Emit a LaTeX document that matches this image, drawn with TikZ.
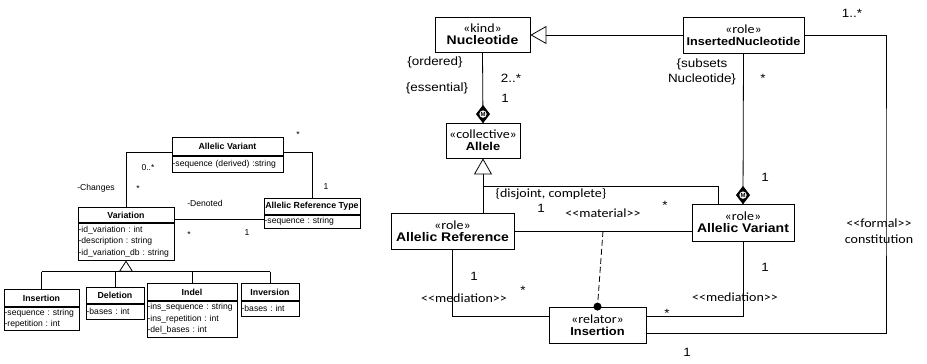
\documentclass[tikz,border=0pt]{standalone}
\usepackage{fontspec}
\setmainfont{Liberation Sans}
\newfontfamily\ontoSans[FakeStretch=1.12]{Liberation Sans}
\newfontfamily\ontoCal[FakeStretch=1.12]{Carlito}
\frenchspacing
\usetikzlibrary{positioning,arrows.meta}
\tikzstyle{diagram} = [x=1pt, y=-1pt, line width=0.8pt]
\tikzstyle{classTitle} = [draw, fill=white, inner sep=0pt, font=\fontsize{8.8}{10}\selectfont\bfseries]
\tikzstyle{classAttrs} = [draw, fill=white, inner xsep=0.6pt, inner ysep=0pt, align=left, font=\fontsize{8.6}{11.5}\selectfont]
\tikzstyle{roleLabel} = [inner sep=0pt, font=\fontsize{8.6}{10}\selectfont]
\tikzstyle{ontoClass} = [draw, fill=white, align=center, inner sep=0pt]
\tikzstyle{multLabel} = [inner sep=0pt, align=center, font=\ontoSans\fontsize{12}{15}\selectfont]
\tikzstyle{calLabel} = [inner sep=0pt, align=center, font=\ontoCal\fontsize{12.5}{16}\selectfont]
\tikzstyle{genSmall} = [-{Triangle[open, length=11pt, width=14pt]}]
\tikzstyle{genLarge} = [-{Triangle[open, length=16pt, width=18pt]}]
\tikzstyle{memberMark} = [circle, fill=white, inner sep=0.3pt, font=\fontsize{6}{6}\selectfont\bfseries]
\newcommand{\umlClass}[8]{
  \pgfmathsetmacro{\attrWidth}{#4 - 1.2}
  \node [classTitle, minimum width=#4, minimum height=#5, anchor=north] (#1) at (#2,#3) {#7};
  \node [classAttrs, text width=\attrWidth pt, minimum height=#6, anchor=north] (#1Attr) at (#1.south) {#8};
}
\newcommand{\stereo}[3]{{\ontoCal\fontsize{12.5}{15}\selectfont«#1»}\\{\ontoSans\fontsize{#2}{15}\selectfont\bfseries #3}}
\newcommand{\memberDiamond}[2]{
  \filldraw [black] (#2) -- ++(-6.5,-8.5) -- ++(6.5,-8.5) -- ++(6.5,8.5) -- cycle;
  \node [memberMark] (#1) at ([yshift=8.5pt]#2) {M};
}

\begin{document}
\begin{tikzpicture}[diagram]
  \useasboundingbox (0,0) rectangle (927,364);

  % variation model
  \umlClass{allelicVariantCls}{227.5}{137}{111}{18}{16}{Allelic Variant}{-sequence (derived) :string}
  \umlClass{allelicRefType}{312}{198}{96}{16}{13}{Allelic Reference Type}{-sequence : string}
  \umlClass{variation}{126}{207}{96}{15}{37}{Variation}{-id\_variation : int\\-description : string\\-id\_variation\_db : string}
  \umlClass{insertionCls}{41.5}{289}{75}{17}{23}{Insertion}{-sequence : string\\-repetition : int}
  \umlClass{deletion}{115}{287}{58}{16}{15}{Deletion}{-bases : int}
  \umlClass{indel}{192}{283}{90}{17}{36}{Indel}{-ins\_sequence : string\\-ins\_repetition : int\\-del\_bases : int}
  \umlClass{inversion}{270}{283}{58}{17}{15}{Inversion}{-bases : int}

  \draw (variation.north) |- ([yshift=3pt]allelicVariantCls.south west);
  \draw ([yshift=3pt]allelicVariantCls.south east) -| (allelicRefType.north);
  \draw ([yshift=3pt]variation.south east) -- ([yshift=3pt]variation.south east -| allelicRefTypeAttr.west);

  \coordinate (variationGen) at (126,271.5);
  \draw [genSmall] (variationGen) -- (variationAttr.south);
  \draw (insertionCls.north |- variationGen) -- (inversion.north |- variationGen);
  \foreach \sub in {insertionCls, deletion, indel, inversion}
    \draw (\sub.north |- variationGen) -- (\sub.north);

  \node [roleLabel] (avTypeMult) at (298,135) {*};
  \node [roleLabel] (typeAvMult) at (326,187) {1};
  \node [roleLabel] (avVarMult) at (148,168) {0..*};
  \node [roleLabel] (varAvMult) at (138,189) {*};
  \node [roleLabel] (changesRole) at (96,188) {-Changes};
  \node [roleLabel] (denotedRole) at (205,203) {-Denoted};
  \node [roleLabel] (varTypeMult) at (189,235) {*};
  \node [roleLabel] (typeVarMult) at (247,233) {1};

  % ontological model
  \node [ontoClass, minimum width=95, minimum height=35] (nucleotide) at (482.5,34.5) {\stereo{kind}{12.5}{Nucleotide}};
  \node [ontoClass, minimum width=121, minimum height=36] (insertedNuc) at (743.5,35) {\stereo{role}{11.3}{InsertedNucleotide}};
  \node [ontoClass, minimum width=74, minimum height=35] (allele) at (483,140.5) {\stereo{collective}{11.5}{Allele}};
  \node [ontoClass, minimum width=123, minimum height=36] (allelicRef) at (452.5,231) {\stereo{role}{12.5}{Allelic Reference}};
  \node [ontoClass, minimum width=102, minimum height=37] (allelicVar) at (743,222.5) {\stereo{role}{12.5}{Allelic Variant}};
  \node [ontoClass, minimum width=97, minimum height=36] (relator) at (597.5,325) {\stereo{relator}{11.5}{Insertion}};

  \draw [genLarge] (insertedNuc.west) -- (insertedNuc.west -| nucleotide.east);
  \draw (nucleotide.south) -- (allele.north);
  \memberDiamond{nucleotideMember}{allele.north}
  \draw (insertedNuc.south) -- (allelicVar.north);
  \memberDiamond{insertedMember}{allelicVar.north}

  \coordinate (alleleGen) at (483,186);
  \draw [genLarge] (alleleGen) -- (allele.south);
  \draw (alleleGen) -- (alleleGen |- allelicRef.north);
  \draw (alleleGen) -| ([xshift=-25pt]allelicVar.north);

  \draw (allelicRef.east) -- (allelicRef.east -| allelicVar.west);
  \coordinate (materialPt) at (603,231);
  \draw [dash pattern=on 6pt off 3pt] (materialPt) -- (relator.north);
  \fill (relator.north) circle (4);

  \draw (allelicRef.south) |- ([yshift=9pt]relator.west);
  \draw (allelicVar.south) |- ([yshift=9pt]relator.east);
  \coordinate (formalTurn) at (886,180);
  \draw (insertedNuc.east) -| (formalTurn) |- ([yshift=-8pt]relator.east);

  \node [multLabel] (orderedTag) at (435,62) {\{ordered\}};
  \node [multLabel] (essentialTag) at (437,88) {\{essential\}};
  \node [multLabel] (partMult) at (511,78) {2..*};
  \node [multLabel] (wholeMult) at (505,98) {1};
  \node [multLabel] (subsetsTag) at (702,72) {\{subsets\\Nucleotide\}};
  \node [multLabel] (insertedMult) at (763,78) {*};
  \node [multLabel] (variantWholeMult) at (765,177) {1};
  \node [multLabel] (formalMult) at (852,13) {1..*};
  \node [multLabel] (formalRelMult) at (687,352) {1};
  \node [calLabel] (partitionTag) at (551,194) {\{disjoint, complete\}};
  \node [multLabel] (materialRefMult) at (541,208) {1};
  \node [calLabel] (materialTag) at (603,213) {<{}<material>{}>};
  \node [multLabel] (materialVarMult) at (665,205) {*};
  \node [multLabel] (refMedMult) at (474,276) {1};
  \node [calLabel] (refMediation) at (464,298) {<{}<mediation>{}>};
  \node [multLabel] (refRelMult) at (523,290) {*};
  \node [multLabel] (varMedMult) at (765,267) {1};
  \node [calLabel] (varMediation) at (735,297) {<{}<mediation>{}>};
  \node [multLabel] (varRelMult) at (667,313) {*};
  \node [calLabel] (formalTag) at (879,231) {<{}<formal>{}>\\constitution};
\end{tikzpicture}
\end{document}
